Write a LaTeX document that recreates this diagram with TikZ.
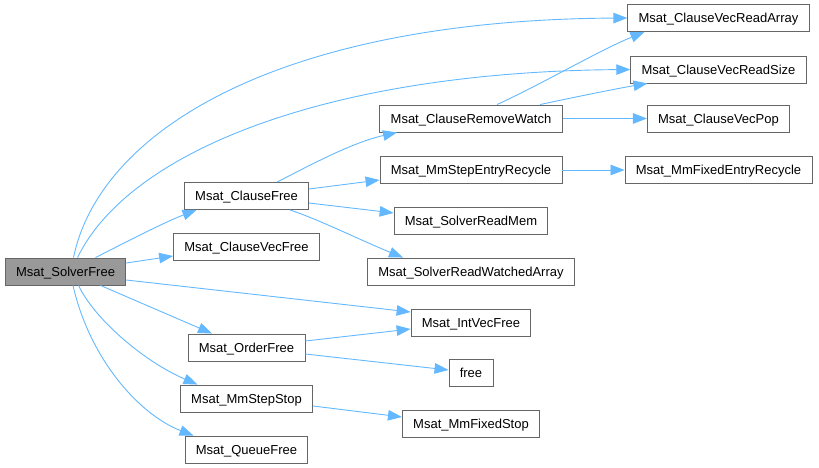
\documentclass[tikz,border=0pt]{standalone}
\usepackage{fontspec}
\setmainfont{Liberation Sans}
\usetikzlibrary{arrows.meta}
\definecolor{edgeblue}{HTML}{63B8FF}
\definecolor{boxgray}{HTML}{666666}
\definecolor{fillgray}{HTML}{999999}
\tikzset{
  fn/.style={draw=boxgray, line width=0.9pt, fill=white, minimum height=27pt, inner xsep=10.8pt, inner ysep=0pt, text height=9.6pt, text depth=0pt, font=\fontsize{13}{15}\selectfont, text=black},
  mainfn/.style={fn, fill=fillgray},
  call/.style={draw=edgeblue, line width=0.9pt, -{Triangle[length=14pt,width=10.5pt]}}
}
\begin{document}
\begin{tikzpicture}[x=1pt,y=-1pt]
\useasboundingbox (0,0) rectangle (819,468);
% rank 0
\node[mainfn] (SolverFree) at (65.5,271.5) {Msat\_SolverFree};
% rank 1
\node[fn] (ClauseFree) at (246.5,196) {Msat\_ClauseFree};
\node[fn] (ClauseVecFree) at (246.5,246.5) {Msat\_ClauseVecFree};
\node[fn] (OrderFree) at (246.5,347.5) {Msat\_OrderFree};
\node[fn] (MmStepStop) at (246.5,398.5) {Msat\_MmStepStop};
\node[fn] (QueueFree) at (246.5,449.5) {Msat\_QueueFree};
% rank 2
\node[fn] (ClauseRemoveWatch) at (471,118.5) {Msat\_ClauseRemoveWatch};
\node[fn] (MmStepEntryRecycle) at (471,170) {Msat\_MmStepEntryRecycle};
\node[fn] (SolverReadMem) at (471,221) {Msat\_SolverReadMem};
\node[fn] (SolverReadWatchedArray) at (471,271.5) {Msat\_SolverReadWatchedArray};
\node[fn] (IntVecFree) at (471,322.5) {Msat\_IntVecFree};
\node[fn] (free) at (471,372.5) {free};
\node[fn] (MmFixedStop) at (471,423.5) {Msat\_MmFixedStop};
% rank 3
\node[fn] (ClauseVecReadArray) at (718.5,18) {Msat\_ClauseVecReadArray};
\node[fn] (ClauseVecReadSize) at (718.5,69.5) {Msat\_ClauseVecReadSize};
\node[fn] (ClauseVecPop) at (718.5,118.5) {Msat\_ClauseVecPop};
\node[fn] (MmFixedEntryRecycle) at (718.5,170) {Msat\_MmFixedEntryRecycle};

% edges from SolverFree
\draw[call] ([xshift=8pt]SolverFree.north) .. controls (100,130) and (280,20) .. (ClauseVecReadArray.west);
\draw[call] ([xshift=12pt]SolverFree.north) .. controls (130,150) and (330,72) .. (ClauseVecReadSize.west);
\draw[call] ([xshift=30pt]SolverFree.north) .. controls (130,240) and (165,222) .. ([xshift=-50pt]ClauseFree.south);
\draw[call] ([yshift=8.5pt]SolverFree.east) -- ([yshift=-9.5pt]ClauseVecFree.west);
\draw[call] ([yshift=-8.5pt]SolverFree.east) -- ([yshift=10.5pt]IntVecFree.west);
\draw[call] ([xshift=35pt]SolverFree.south) -- ([xshift=-34.5pt]OrderFree.north);
\draw[call] ([xshift=13pt]SolverFree.south) .. controls (95,320) and (145,362) .. ([xshift=-49pt]MmStepStop.north);
\draw[call] ([xshift=7.5pt]SolverFree.south) .. controls (90,360) and (140,415) .. ([xshift=-53pt]QueueFree.north);
% edges from ClauseFree
\draw[call] ([xshift=30.5pt]ClauseFree.north) .. controls (305,168) and (350,143) .. ([xshift=-74pt]ClauseRemoveWatch.south);
\draw[call] ([yshift=7pt]ClauseFree.east) -- ([yshift=-10pt]MmStepEntryRecycle.west);
\draw[call] ([yshift=-7pt]ClauseFree.east) -- ([yshift=8pt]SolverReadMem.west);
\draw[call] ([xshift=43.5pt]ClauseFree.south) .. controls (320,220) and (360,240) .. ([xshift=-68pt]SolverReadWatchedArray.north);
% edges from ClauseRemoveWatch
\draw[call] ([xshift=26pt]ClauseRemoveWatch.north) .. controls (540,85) and (600,50) .. ([xshift=-74pt]ClauseVecReadArray.south);
\draw[call] ([xshift=69pt]ClauseRemoveWatch.north) .. controls (580,96) and (620,88) .. ([xshift=-71pt]ClauseVecReadSize.south);
\draw[call] (ClauseRemoveWatch.east) -- (ClauseVecPop.west);
% other edges
\draw[call] (MmStepEntryRecycle.east) -- (MmFixedEntryRecycle.west);
\draw[call] ([yshift=6.5pt]OrderFree.east) -- ([yshift=-6.5pt]IntVecFree.west);
\draw[call] ([yshift=-6.5pt]OrderFree.east) -- ([yshift=2.5pt]free.west);
\draw[call] ([yshift=-7.5pt]MmStepStop.east) -- ([yshift=6.5pt]MmFixedStop.west);
\end{tikzpicture}
\end{document}
